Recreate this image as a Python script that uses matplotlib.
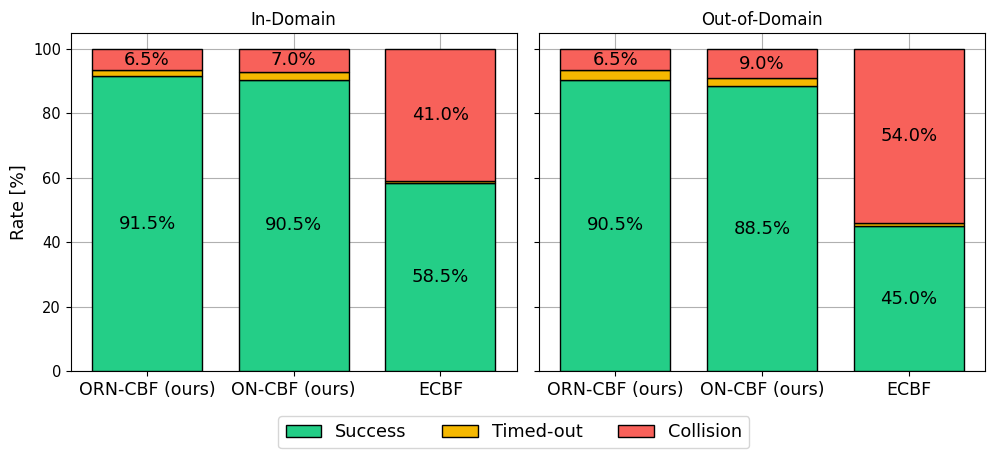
import matplotlib.pyplot as plt
import numpy as np

methods = ['ORN-CBF (ours)', 'ON-CBF (ours)', 'ECBF']
panels = ['In-Domain', 'Out-of-Domain']
success = {'In-Domain': [91.5, 90.5, 58.5], 'Out-of-Domain': [90.5, 88.5, 45.0]}
timed_out = {'In-Domain': [2.0, 2.5, 0.5], 'Out-of-Domain': [3.0, 2.5, 1.0]}
collision = {'In-Domain': [6.5, 7.0, 41.0], 'Out-of-Domain': [6.5, 9.0, 54.0]}

c_succ = '#24ce87'
c_time = '#f5b800'
c_coll = '#f8615a'

fig, axs = plt.subplots(1, 2, sharey=True, figsize=(9.96, 4.58), dpi=100)
fig.subplots_adjust(left=0.071, right=0.989, top=0.928, bottom=0.19, wspace=0.05)

ind = np.arange(len(methods))
width = 0.75
for ax, panel in zip(axs, panels):
    s = np.array(success[panel])
    t = np.array(timed_out[panel])
    c = np.array(collision[panel])
    ax.bar(ind, s, width, color=c_succ, edgecolor='black', label='Success', zorder=3)
    ax.bar(ind, t, width, bottom=s, color=c_time, edgecolor='black', label='Timed-out', zorder=3)
    ax.bar(ind, c, width, bottom=s + t, color=c_coll, edgecolor='black', label='Collision', zorder=3)
    for i in ind:
        ax.text(i, s[i] / 2, '{:.1f}%'.format(s[i]), ha='center', va='center', fontsize=13, zorder=4)
        ax.text(i, s[i] + t[i] + c[i] / 2, '{:.1f}%'.format(c[i]), ha='center', va='center', fontsize=13, zorder=4)
    ax.set_xticks(ind)
    ax.set_xticklabels(methods, fontsize=12.5)
    ax.set_xlim(-0.52, 2.52)
    ax.set_ylim(0, 105)
    ax.grid(True, color='#b0b0b0', linewidth=0.8, zorder=0)
    ax.set_title(panel, fontsize=12)
    ax.tick_params(axis='y', labelsize=10.5)

axs[0].set_ylabel('Rate [%]', fontsize=12.5)
handles, labels = axs[0].get_legend_handles_labels()
fig.legend(handles, labels, loc='lower center', ncol=3, fontsize=12.8, bbox_to_anchor=(0.516, 0.002),
           handlelength=2.0, columnspacing=2.0)
plt.savefig('out.png')
